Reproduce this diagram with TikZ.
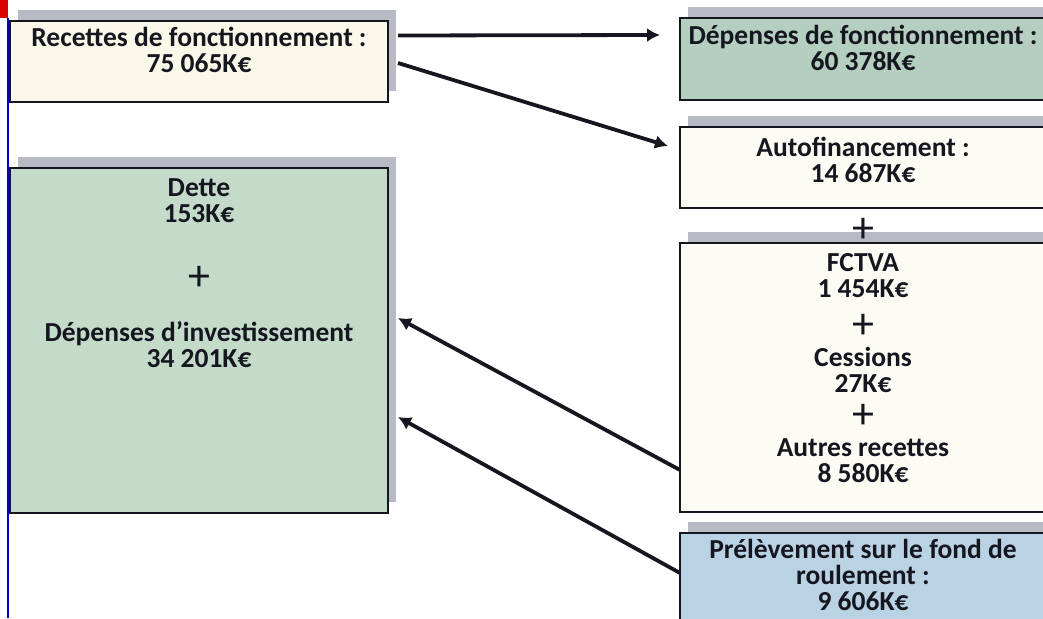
\documentclass[tikz,border=0pt]{standalone}
\usepackage{fontspec}
\setmainfont{Carlito}
\usetikzlibrary{arrows.meta, shadows, positioning}
\tikzset{>={Latex[width=14pt,length=13pt]}}
\definecolor{creme}{RGB}{250,248,232}
\definecolor{blanc}{RGB}{252,251,244}
\definecolor{vertfonce}{RGB}{180,206,192}
\definecolor{vertclair}{RGB}{196,219,202}
\definecolor{bleuclair}{RGB}{186,211,228}
\definecolor{ombre}{RGB}{184,186,196}
\definecolor{encre}{RGB}{22,22,32}

\begin{document}
\begin{tikzpicture}[x=1pt, y=-1pt,
    box/.style = {draw=encre, line width=1.6pt, anchor=north west,
        inner sep=0pt, outer sep=0pt,
        drop shadow={shadow xshift=8pt, shadow yshift=11pt, fill=ombre, opacity=1}},
    txt/.style = {font=\bfseries\fontsize{27.5}{26}\selectfont, text=encre,
        align=center, inner sep=0pt},
    plussign/.style = {font=\fontsize{44}{44}\selectfont, text=encre, inner sep=0pt},
    arr/.style = {->, line width=3.8pt, draw=encre}
  ]
  \useasboundingbox (0,0) rectangle (1043,618);
  \clip (0,0) rectangle (1043,618);

  % page edge
  \fill[red!85!black] (0,0) rectangle (8,18);
  \draw[blue!80!black, line width=2pt] (8,18) -- (8,618);

  % boxes
  \node[box, fill=creme, minimum width=378pt, minimum height=81pt] (rec) at (10,21) {};
  \node[box, fill=vertclair, minimum width=378pt, minimum height=345pt] (dette) at (10,168) {};
  \node[box, fill=vertfonce, minimum width=366pt, minimum height=82pt] (dep) at (680,18) {};
  \node[box, fill=blanc, minimum width=366pt, minimum height=81pt] (autof) at (680,127) {};
  \node[box, fill=blanc, minimum width=366pt, minimum height=269pt] (fctva) at (680,243) {};
  \node[box, fill=bleuclair, minimum width=366pt, minimum height=100pt] (prel) at (680,533) {};

  % texts
  \node[txt, below=6pt of rec.north] (rectxt) {Recettes de fonctionnement :\\75 065K€};
  \node[txt, below=7pt of dep.north] (deptxt) {Dépenses de fonctionnement :\\60 378K€};
  \node[txt, below=10pt of autof.north] (autotxt) {Autofinancement :\\14 687K€};
  \node[plussign, below=10pt of autof.south] (plusa) {+};
  \node[txt, below=10pt of fctva.north] (fctvatxt) {FCTVA\\1 454K€};
  \node[plussign, below=71pt of fctva.north] (plusb) {+};
  \node[txt, below=104pt of fctva.north] (cesstxt) {Cessions\\27K€};
  \node[plussign, below=161pt of fctva.north] (plusc) {+};
  \node[txt, below=195pt of fctva.north] (autrestxt) {Autres recettes\\8 580K€};
  \node[txt, below=6pt of prel.north] (preltxt) {Prélèvement sur le fond de\\roulement :\\9 606K€};
  \node[txt, below=10pt of dette.north] (dettetxt) {Dette\\153K€};
  \node[plussign, below=98pt of dette.north] (plusd) {+};
  \node[txt, below=153pt of dette.north] (invtxt) {Dépenses d’investissement\\34 201K€};

  % arrows
  \draw[arr] ([xshift=10pt, yshift=26pt]rec.east) -- ([xshift=-20pt, yshift=24pt]dep.west);
  \draw[arr] ([xshift=10pt, yshift=-1.5pt]rec.east) -- ([xshift=-12pt, yshift=21.5pt]autof.west);
  \draw[arr] ([yshift=-92.5pt]fctva.west) -- ([xshift=10pt, yshift=22.5pt]dette.east);
  \draw[arr] ([yshift=10pt]prel.west) -- ([xshift=10pt, yshift=-76.5pt]dette.east);
\end{tikzpicture}
\end{document}
